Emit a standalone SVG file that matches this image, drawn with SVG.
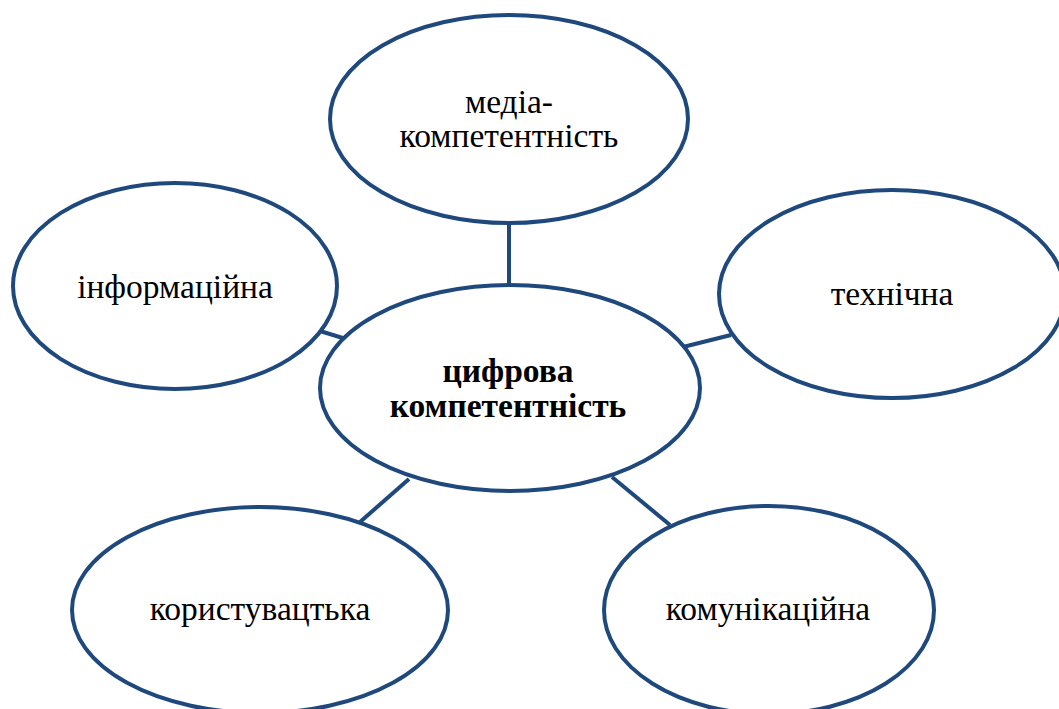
<svg xmlns="http://www.w3.org/2000/svg" width="1059" height="709" viewBox="0 0 1059 709">
<style>
.n{fill:#fff;stroke:#1F497D;stroke-width:4}
.c{stroke:#1F497D;stroke-width:4;fill:none}
.t{font-family:'Liberation Serif','DejaVu Serif',serif;font-size:33.5px;fill:#000;text-anchor:middle}
.b{font-weight:bold}
</style>
<rect width="1059" height="709" fill="#fff"/>
<g id="connectors">
<line class="c" x1="509" y1="223" x2="509" y2="286"/>
<line class="c" x1="320" y1="331" x2="346" y2="339"/>
<line class="c" x1="683" y1="347" x2="731" y2="335"/>
<line class="c" x1="409" y1="479" x2="360" y2="522"/>
<line class="c" x1="612" y1="477" x2="670" y2="525"/>
</g>
<g id="media"><ellipse class="n" cx="509" cy="119" rx="179" ry="104"/><text class="t" x="509" y="113">медіа-</text><text class="t" x="509" y="147">компетентність</text></g>
<g id="info"><ellipse class="n" cx="175" cy="286" rx="162" ry="103"/><text class="t" x="175" y="298">інформаційна</text></g>
<g id="tech"><ellipse class="n" cx="892" cy="294" rx="173" ry="104"/><text class="t" x="892" y="305">технічна</text></g>
<g id="digital"><ellipse class="n" cx="510" cy="388" rx="190" ry="103"/><text class="t b" x="508" y="382">цифрова</text><text class="t b" x="508" y="417">компетентність</text></g>
<g id="user"><ellipse class="n" cx="260" cy="610" rx="188" ry="103"/><text class="t" x="260" y="620">користувацтька</text></g>
<g id="comm"><ellipse class="n" cx="769" cy="610" rx="165" ry="104"/><text class="t" x="768" y="620">комунікаційна</text></g>
</svg>
